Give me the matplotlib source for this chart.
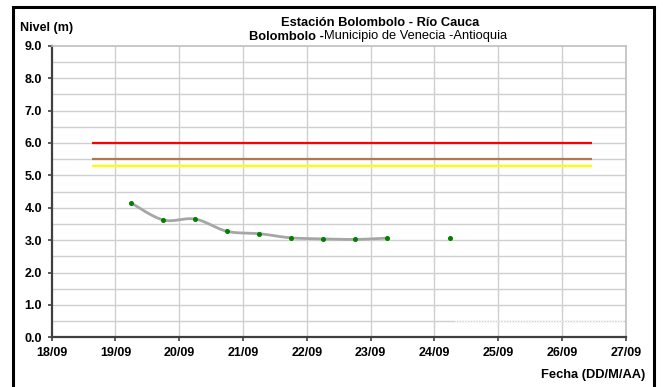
import numpy as np
import matplotlib
matplotlib.use("Agg")
import matplotlib.pyplot as plt
from matplotlib.patches import Rectangle

plt.rcParams['font.family'] = ['Liberation Sans', 'DejaVu Sans']

# ---- data ----
obs_day = [19.25, 19.75, 20.25, 20.75, 21.25, 21.75, 22.25, 22.75, 23.25, 24.25]
obs_level = [4.14, 3.62, 3.65, 3.27, 3.20, 3.07, 3.04, 3.02, 3.06, 3.07]
thr_start, thr_end = 18.63, 26.47
thr_levels = [6.0, 5.5, 5.3]
thr_colors = ['#ff0000', '#b07850', '#ffff00']
tick_days = [18, 19, 20, 21, 22, 23, 24, 25, 26, 27]
tick_labels = ['18/09', '19/09', '20/09', '21/09', '22/09', '23/09', '24/09',
               '25/09', '26/09', '27/09']
y_ticks = [0, 1, 2, 3, 4, 5, 6, 7, 8, 9]

fig = plt.figure(figsize=(6.63, 3.87), dpi=100)
W, H = 663, 387
ax = fig.add_axes([51.7 / W, 1 - 337.3 / H, (625.7 - 51.7) / W, (337.3 - 45.7) / H])

ax.set_xlim(18, 27)
ax.set_ylim(0, 9)

# grid
for yv in np.arange(0.5, 9.0, 0.5):
    ax.axhline(yv, color='#cfcfcf', lw=1.0, zorder=0)
for xv in tick_days[1:-1]:
    ax.axvline(xv, color='#cfcfcf', lw=1.0, zorder=0)

# thresholds
for lv, c in zip(thr_levels, thr_colors):
    ax.plot([thr_start, thr_end], [lv, lv], color=c, lw=1.6, zorder=2,
            solid_capstyle='butt')

# smoothed curve through contiguous observations (Catmull-Rom)
def catmull(xs, ys, n=20):
    xs = np.asarray(xs, float); ys = np.asarray(ys, float)
    P = np.column_stack([xs, ys])
    P = np.vstack([P[0], P, P[-1]])
    out = []
    for i in range(1, len(P) - 2):
        p0, p1, p2, p3 = P[i - 1], P[i], P[i + 1], P[i + 2]
        t = np.linspace(0, 1, n)[:, None]
        c1 = p1 + (p2 - p0) / 6
        c2 = p2 - (p3 - p1) / 6
        b = ((1 - t) ** 3) * p1 + 3 * ((1 - t) ** 2) * t * c1 + 3 * (1 - t) * t ** 2 * c2 + t ** 3 * p2
        out.append(b)
    out = np.vstack(out)
    return out[:, 0], out[:, 1]

segs = [[0]]
for i in range(1, len(obs_day)):
    if obs_day[i] - obs_day[i - 1] <= 0.51:
        segs[-1].append(i)
    else:
        segs.append([i])
for s in segs:
    if len(s) > 1:
        cx, cy = catmull([obs_day[i] for i in s], [obs_level[i] for i in s])
        ax.plot(cx, cy, color='#a6a6a6', lw=2.0, zorder=3, solid_capstyle='round')
ax.plot(obs_day, obs_level, 'o', color='#008000', ms=2.6, mec='#008000', zorder=4)

# faint white dotted trace near bottom right
ax.plot([24.32, 26.95], [0.5, 0.5], color='white', lw=1.0, ls=(0, (1, 1)), zorder=1)

# ticks
ax.set_xticks(tick_days)
ax.set_xticklabels(tick_labels, fontsize=9, fontweight='bold')
ax.set_yticks(y_ticks)
ax.set_yticklabels([f'{v:.1f}' for v in y_ticks], fontsize=9, fontweight='bold')
ax.tick_params(axis='both', direction='out', length=3, width=1.2, color='#404040')
ax.tick_params(axis='y', pad=4)
ax.tick_params(axis='x', pad=4)

for s in ['left', 'bottom']:
    ax.spines[s].set_color('#404040')
    ax.spines[s].set_linewidth(1.6)
for s in ['top', 'right']:
    ax.spines[s].set_color('#bfbfbf')
    ax.spines[s].set_linewidth(1.2)

# texts
fig.text(20 / W, 1 - 28 / H, 'Nivel (m)', fontsize=9, fontweight='bold', va='center', ha='left')
fig.text(380 / W, 1 - 23 / H, 'Estación Bolombolo - Río Cauca', fontsize=9.3,
         fontweight='bold', va='center', ha='center')
t1 = fig.text(249 / W, 1 - 36.5 / H, 'Bolombolo -', fontsize=9.3, fontweight='bold',
              va='center', ha='left')
fig.canvas.draw()
bb = t1.get_window_extent()
fig.text(bb.x1 / W, 1 - 36.5 / H, 'Municipio de Venecia -Antioquia', fontsize=9.3,
         va='center', ha='left')
fig.text(645 / W, 1 - 375 / H, 'Fecha (DD/M/AA)', fontsize=9.3, fontweight='bold',
         va='center', ha='right')

# outer frame
fig.patches.append(Rectangle((12.5 / W, -0.05), (654 - 12.5) / W, 1.05 - 6.5 / H,
                             transform=fig.transFigure, fill=False, ec='black', lw=2.2))

fig.savefig('out.png', dpi=100)
